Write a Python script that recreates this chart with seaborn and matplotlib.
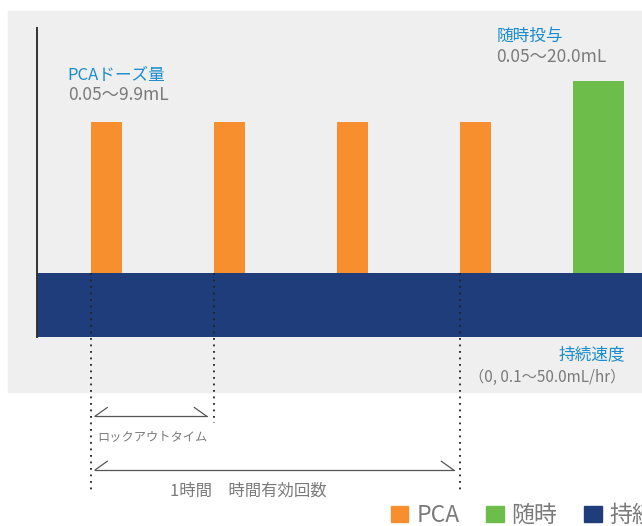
import matplotlib
matplotlib.use("Agg")
import matplotlib.pyplot as plt
import matplotlib.patches as mpatches
import seaborn as sns

# PCA dose timing (hours-ish slots), bolus slot, continuous rate block
pca_x = [1, 2, 3, 4]
pca_h = [2.36, 2.36, 2.36, 2.36]
bolus_x = [5]
bolus_h = [3.0]
cont_h = 1.0

legend_labels = ["PCA", "随時", "持続"]
colors = {"PCA": "#f78f2e", "随時": "#6dbd4b", "持続": "#1f3c7b"}
blue_txt = "#1b8ccc"
grey_txt = "#7a7a7a"

sns.set_theme(style="white")
plt.rcParams["font.family"] = ["Noto Sans CJK JP", "DejaVu Sans"]

fig = plt.figure(figsize=(6.42, 5.26), dpi=100)
fig.patches.append(mpatches.Rectangle((8 / 642, 134 / 526), 1.0, 381 / 526,
                                      transform=fig.transFigure, color="#efefef", zorder=-5))

ax = fig.add_axes([37 / 642, 189 / 526, 605 / 642, 309 / 526])
ax.set_zorder(1)
ax.set_facecolor("none")
ax.set_xlim(0.435, 5.354)
ax.set_ylim(0, 309 / 64)

ax.barh([cont_h / 2], [10], height=cont_h, left=ax.get_xlim()[0],
        color=colors["持続"], lw=0, zorder=2, label="持続")
ax.bar(pca_x, pca_h, width=0.255, bottom=cont_h, color=colors["PCA"], lw=0, zorder=2, label="PCA")
ax.bar(bolus_x, bolus_h, width=0.41, bottom=cont_h, color=colors["随時"], lw=0, zorder=2, label="随時")

for s in ["top", "right", "bottom"]:
    ax.spines[s].set_visible(False)
ax.spines["left"].set_color("#333333")
ax.spines["left"].set_linewidth(1.4)
ax.set_xticks([])
ax.set_yticks([])

# dotted guides from bar left edges
edges = [x - 0.255 / 2 for x in pca_x]
for xe, yb in [(edges[0], -2.44), (edges[1], -1.34), (edges[3], -2.44)]:
    ax.plot([xe, xe], [cont_h, yb], color="#222222", lw=1.3, ls=(0, (1, 2.6)),
            clip_on=False, zorder=3)


def span(x0, x1, y):
    kw = dict(color="#555555", lw=0.9, clip_on=False)
    ax.plot([x0, x1], [y, y], **kw)
    ax.plot([x0, x0 + 0.102], [y, y + 0.14], **kw)
    ax.plot([x1, x1 - 0.102], [y, y + 0.14], **kw)


span(edges[0] + 0.033, edges[1] - 0.057, -1.24)
span(edges[0] + 0.033, edges[3] - 0.049, -2.08)

ax.text(0.925, -1.55, "ロックアウトタイム", color=grey_txt, fontsize=8.8, va="center")
ax.text(1.52, -2.41, "1時間　時間有効回数", color=grey_txt, fontsize=11.8, va="center")

ax.text(0.685, 4.08, "PCAドーズ量", color=blue_txt, fontsize=12, va="center")
ax.text(0.685, 3.78, "0.05〜9.9mL", color=grey_txt, fontsize=12.5, va="center")
ax.text(4.172, 4.69, "随時投与", color=blue_txt, fontsize=12, va="center")
ax.text(4.172, 4.375, "0.05〜20.0mL", color=grey_txt, fontsize=12.5, va="center")
ax.text(5.215, -0.28, "持続速度", color=blue_txt, fontsize=12, va="center", ha="right")
ax.text(5.215, -0.625, "（0, 0.1〜50.0mL/hr）", color=grey_txt, fontsize=11, va="center", ha="right")

handles = [mpatches.Patch(color=colors[k]) for k in legend_labels]
fig.legend(handles, legend_labels, ncol=3, loc="upper left",
           bbox_to_anchor=(391 / 642, 22 / 526), frameon=False,
           handlelength=0.75, handleheight=0.75, handletextpad=0.35,
           columnspacing=1.18, borderaxespad=0, borderpad=0,
           prop={"size": 16.5}, labelcolor=grey_txt)

fig.savefig("out.png", dpi=100)
